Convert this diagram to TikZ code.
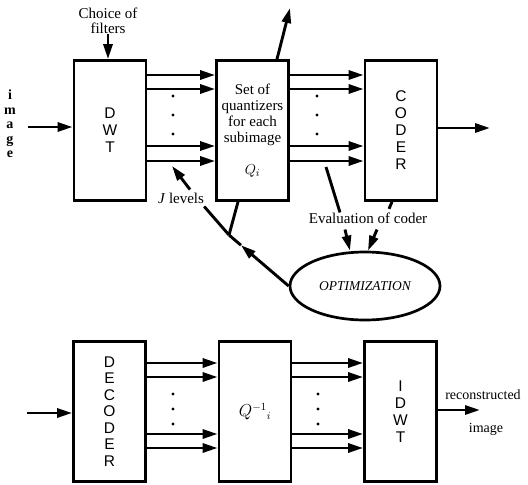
\documentclass[tikz,border=0pt]{standalone}
\usepackage{fontspec}
\setmainfont{Liberation Serif}
\setsansfont{Liberation Sans}
\usetikzlibrary{arrows.meta,shapes.geometric,calc}
\tikzset{
  block/.style={draw,line width=2.7pt,minimum width=72pt,minimum height=140pt,inner sep=0pt,
    align=center,font=\sffamily\fontsize{15.5}{17}\selectfont},
  sig/.style={line width=2.9pt,-{Triangle[length=15pt,width=9pt]}},
  wire/.style={line width=2.9pt},
  lbl/.style={inner sep=0pt,align=center,font=\fontsize{15}{15}\selectfont}
}

\begin{document}
\begin{tikzpicture}[x=1pt,y=-1pt]
    \useasboundingbox (0,0) rectangle (528,485);

    % Define the row centres of the two chains
    \def\ytop{130.5}   % coding chain
    \def\ybot{411.5}   % decoding chain

    % -- Boxes of the coding chain --
    \node[block] (dwt)   at (110,\ytop)   {D\\W\\T};
    \node[block,font=\fontsize{15}{16}\selectfont] (q) at (252.5,\ytop)
      {Set of\\quantizers\\for each\\subimage\\[16pt]$Q_i$};
    \node[block] (coder) at (401,\ytop)   {C\\O\\D\\E\\R};

    % -- Boxes of the decoding chain --
    \node[block,font=\sffamily\fontsize{15.5}{16.5}\selectfont] (dec) at (109.5,\ybot) {D\\E\\C\\O\\D\\E\\R};
    \node[block,font=\fontsize{16}{16}\selectfont] (qinv) at (255,\ybot) {$Q^{-1}{}_{i}$};
    \node[block] (idwt)  at (400.5,\ybot) {I\\D\\W\\T};

    % -- Optimization loop --
    \node[ellipse,draw,line width=2.7pt,minimum width=150pt,minimum height=68pt,
      font=\itshape\fontsize{13.5}{15}\selectfont] (opt) at (365,286) {OPTIMIZATION};

    % -- Labels --
    \node[lbl,font=\bfseries\fontsize{14}{14.5}\selectfont] (imglbl) at (10,124) {i\\m\\a\\g\\e};
    \node[lbl] (filt) at (108,21) {Choice of\\filters};
    \node[lbl] (jlev) at (181,198) {\textit{J} levels};
    \node[lbl] (eval) at (368,218) {Evaluation of coder};
    \node[lbl,font=\fontsize{14}{14}\selectfont] (rec) at (483,395) {reconstructed};
    \node[lbl,font=\fontsize{14}{14}\selectfont] (recimg) at (486,429) {image};

    \coordinate (imgin) at (28,127);
    \coordinate (qout)  at (290,8);
    \coordinate (cout)  at (490,128);
    \coordinate (decin) at (27,413);
    \coordinate (iout)  at (480,410);
    \coordinate (jtip)  at (172,166);
    \coordinate (evtip) at (326,167);
    \coordinate (jn)    at (229,235);

    % -- Subband arrows between the boxes --
    \foreach \s in {55.5,41.5,-15.5,-30.5} {
      \draw[sig] ([yshift=\s pt]dwt.east) -- ([yshift=\s pt]dwt.east -| q.west);
      \draw[sig] ([yshift=\s pt]q.east) -- ([yshift=\s pt]q.east -| coder.west);
    }
    \foreach \s in {48.5,34.5,-22.5,-36.5} {
      \draw[sig] ([yshift=\s pt]dec.east) -- ([yshift=\s pt]dec.east -| qinv.west);
      \draw[sig] ([yshift=\s pt]qinv.east) -- ([yshift=\s pt]qinv.east -| idwt.west);
    }

    % -- Dots for the remaining levels --
    \foreach \yy in {96,115,134} {
      \fill (173,\yy) circle (1.6);
      \fill (317,\yy) circle (1.6);
    }
    \foreach \yy in {394,409,424} {
      \fill (173,\yy) circle (1.6);
      \fill (318,\yy) circle (1.6);
    }

    % -- Inputs and outputs --
    \draw[sig] (imgin) -- (imgin -| dwt.west);
    \draw[sig] (filt.south) -- (filt.south |- dwt.north);
    \draw[sig] ([xshift=24.5pt]q.north) -- (qout);
    \draw[sig] (cout -| coder.east) -- (cout);
    \draw[sig] (decin) -- (decin -| dec.west);
    \draw[sig] (iout -| idwt.east) -- (iout);

    % -- Feedback through the optimization --
    \draw[sig] ([xshift=9pt,yshift=3pt]jlev.north) -- (jtip);
    \draw[wire] ([xshift=-28pt]eval.north) -- (evtip);
    \draw[wire] ([xshift=-9pt]coder.south) -- ([xshift=-12pt,yshift=-7pt]coder.south);
    \draw[sig] ([xshift=-23pt,yshift=-6pt]eval.south) -- ([xshift=-15pt]opt.north);
    \draw[sig] ([xshift=9pt,yshift=-6pt]eval.south) -- ([xshift=3pt]opt.north);
    \draw[sig] (opt.west) -- ($(opt.west)!0.8!(jn)$);
    \draw[wire] ($(opt.west)!0.8!(jn)$) -- (jn);
    \draw[wire] (jn) -- ([xshift=-14.5pt]q.south);
    \draw[wire] (jn) -- ([yshift=-3pt]jlev.south east);

\end{tikzpicture}
\end{document}
